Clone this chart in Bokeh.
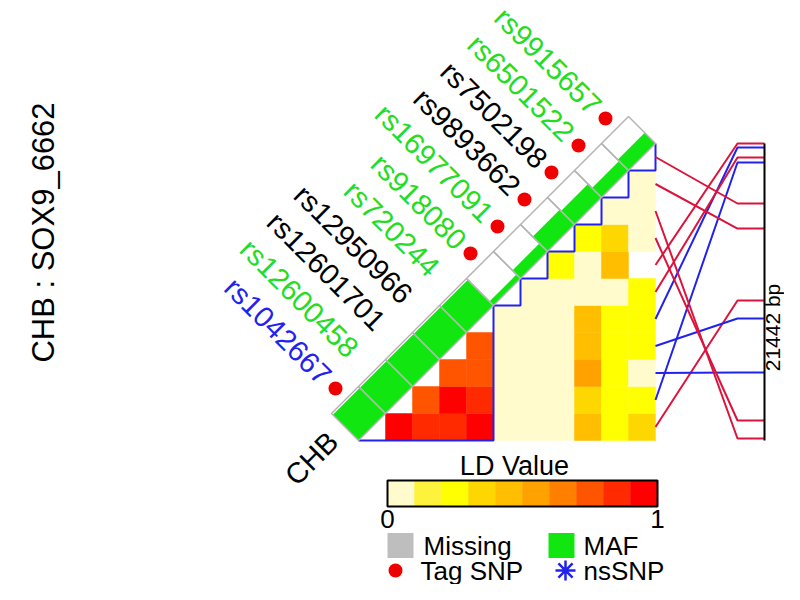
import math
from bokeh.plotting import figure
from bokeh.models import Range1d
from bokeh.embed import file_html
from bokeh.resources import INLINE
from bokeh.core.properties import value

# ---------------- data ----------------
snps = ["rs1042667", "rs12600458", "rs12601701", "rs12950966", "rs720244",
        "rs918080", "rs16977091", "rs9893662", "rs7502198", "rs6501522", "rs9915657"]
label_colors = ["#2222ee", "#22dd22", "black", "black", "#22dd22",
                "#22dd22", "#22dd22", "black", "black", "#22dd22", "#22dd22"]
tag_snp = [1, 0, 0, 0, 0, 1, 1, 1, 1, 1, 1]
maf_frac = [0.95, 0.95, 0.95, 0.95, 0.95, 0.15, 0.3, 0.55, 0.5, 0.35, 0.4]
positions_bp = [11335, 1372, 16533, 12634, 289, 1011, 0, 19998, 21298, 6137, 4332]
region_bp = 21442
blocks = [(0, 5), (5, 6), (6, 7), (7, 8), (8, 9), (9, 10), (10, 11)]

# LD value rows: row r holds pairs (r, c) for c = r+1 .. 10
ld_r0 = [0.97, 0.88, 0.86, 0.95, 0.03, 0.03, 0.04, 0.45, 0.25, 0.35]
ld_r1 = [0.75, 0.96, 0.85, 0.02, 0.03, 0.02, 0.35, 0.24, 0.26]
ld_r2 = [0.76, 0.77, 0.03, 0.02, 0.04, 0.55, 0.25, 0.05]
ld_r3 = [0.76, 0.02, 0.03, 0.03, 0.45, 0.26, 0.24]
ld_r4 = [0.03, 0.02, 0.04, 0.46, 0.25, 0.27]
ld_r5 = [0.03, 0.02, 0.04, 0.03, 0.25]
ld_r6 = [0.25, 0.03, 0.45]
ld_r7 = [0.25, 0.35, 0.03]
ld_r8 = [0.02, 0.04]
ld_r9 = [0.03]
ld_rows = [ld_r0, ld_r1, ld_r2, ld_r3, ld_r4, ld_r5, ld_r6, ld_r7, ld_r8, ld_r9]

palette = ["#FFFBCC", "#FFF23C", "#FFFF00", "#FFD700", "#FFBF00",
           "#FFA200", "#FF8000", "#FF5500", "#FF2A00", "#FF0000"]
legend_labels = ["Missing", "MAF", "Tag SNP", "nsSNP"]

RED = "#DC143C"
BLUE = "#2222EE"
GREEN = "#11E611"
FONT = value("Liberation Sans")

# picture pixel -> data helpers (1 data unit = one cell)
CELL = 27.0
def X(px):
    return (px - 358.0) / CELL
def Y(py):
    return (440.0 - py) / CELL

W, H = 784, 584
p = figure(width=W, height=H, x_range=Range1d(X(0), X(W)), y_range=Range1d(Y(H), Y(0)),
           output_backend="svg", toolbar_location=None, min_border=0,
           x_axis_location=None, y_axis_location=None)
p.grid.visible = False
p.outline_line_color = None
p.background_fill_color = "white"

# ---------------- heatmap ----------------
cx, cy, cc = [], [], []
for r, row in enumerate(ld_rows):
    for k, v in enumerate(row):
        c = r + 1 + k
        cx.append(c + 0.5)
        cy.append(r + 0.5)
        cc.append(palette[min(int(v * 10), 9)])
p.rect(x=cx, y=cy, width=1, height=1, fill_color=cc, line_color=cc, line_width=0.5)

# block outlines
bx, by = [], []
for a, b in blocks:
    bx.append([a, b, b])
    by.append([a, a, b])
p.multi_line(xs=bx, ys=by, line_color=BLUE, line_width=2)

# MAF diamonds
n = len(snps)
dxs, dys, gxs, gys = [], [], [], []
for i in range(n):
    dxs.append([i, i + 1, i, i - 1])
    dys.append([i, i + 1, i + 2, i + 1])
    f = maf_frac[i]
    gxs.append([i, i + 1, i + 1 - f, i - f])
    gys.append([i, i + 1, i + 1 + f, i + f])
p.patches(xs=dxs, ys=dys, fill_color="white", line_color=None)
p.patches(xs=gxs, ys=gys, fill_color=GREEN, line_color=None)
p.patches(xs=dxs, ys=dys, fill_color=None, line_color="#b4b4b4", line_width=1.5)

# SNP labels and tag dots
lx = [i + X(326) for i in range(n)]
ly = [i + Y(379) for i in range(n)]
p.text(x=lx, y=ly, text=snps, angle=-math.pi / 4, text_align="right", text_baseline="middle",
       text_color=label_colors, text_font=FONT, text_font_size=value("29px"))
tx = [i + X(335) for i in range(n) if tag_snp[i]]
ty = [i + Y(388) for i in range(n) if tag_snp[i]]
p.scatter(x=tx, y=ty, marker="circle", size=14, fill_color="#EE0000", line_color=None)

# ---------------- physical position lines ----------------
x_bend = X(737)
x_axis = X(764)
lxs, lys, lcols = [], [], []
for i in range(n):
    yp = n * (1 - positions_bp[i] / region_bp)
    lxs.append([n, x_bend, x_axis])
    lys.append([i + 0.5, yp, yp])
    lcols.append(RED if tag_snp[i] else BLUE)
p.multi_line(xs=lxs, ys=lys, line_color=lcols, line_width=2)
p.segment(x0=[x_axis], y0=[0], x1=[x_axis], y1=[n], line_color="black", line_width=2)
p.text(x=[X(772)], y=[Y(327)], text=[f"{region_bp} bp"], angle=math.pi / 2, text_align="center",
       text_baseline="middle", text_font=FONT, text_font_size=value("21px"), text_color="black")

# ---------------- titles ----------------
p.text(x=[X(43)], y=[Y(232)], text=["CHB : SOX9_6662"], angle=math.pi / 2, text_align="center",
       text_baseline="middle", text_font=FONT, text_font_size=value("31px"), text_color="black")
p.text(x=[X(311)], y=[Y(458)], text=["CHB"], angle=math.pi / 4, text_align="center",
       text_baseline="middle", text_font=FONT, text_font_size=value("29px"), text_color="black")

# ---------------- LD legend ----------------
nb = len(palette)
bar_left, bar_right = X(387), X(657)
bw = (bar_right - bar_left) / nb
p.rect(x=[bar_left + bw * (k + 0.5) for k in range(nb)], y=[Y(493)] * nb, width=bw,
       height=Y(480) - Y(506), fill_color=palette, line_color=palette, line_width=0.5)
p.rect(x=[(bar_left + bar_right) / 2], y=[Y(493)], width=bar_right - bar_left,
       height=Y(480) - Y(506), fill_color=None, line_color="black", line_width=2)
p.text(x=[(bar_left + bar_right) / 2 - 0.3], y=[Y(465)], text=["LD Value"], text_align="center",
       text_baseline="middle", text_font=FONT, text_font_size=value("27px"), text_color="black")
p.text(x=[bar_left, bar_right], y=[Y(518)] * 2, text=["0", "1"], text_align="center",
       text_baseline="middle", text_font=FONT, text_font_size=value("26px"), text_color="black")

# symbol legend
p.rect(x=[X(400), X(561)], y=[Y(545)] * 2, width=26 / CELL, height=25 / CELL,
       fill_color=["#BEBEBE", GREEN], line_color=None)
p.scatter(x=[X(395)], y=[Y(570)], marker="circle", size=14, fill_color="#EE0000", line_color=None)
p.scatter(x=[X(565)], y=[Y(570)], marker="asterisk", size=20, line_color=BLUE, line_width=2.5)
p.text(x=[X(423), X(583), X(420), X(583)], y=[Y(545), Y(545), Y(570), Y(570)], text=legend_labels,
       text_align="left", text_baseline="middle", text_font=FONT, text_font_size=value("26px"),
       text_color="black")

open("out.html", "w").write(file_html(p, INLINE))
